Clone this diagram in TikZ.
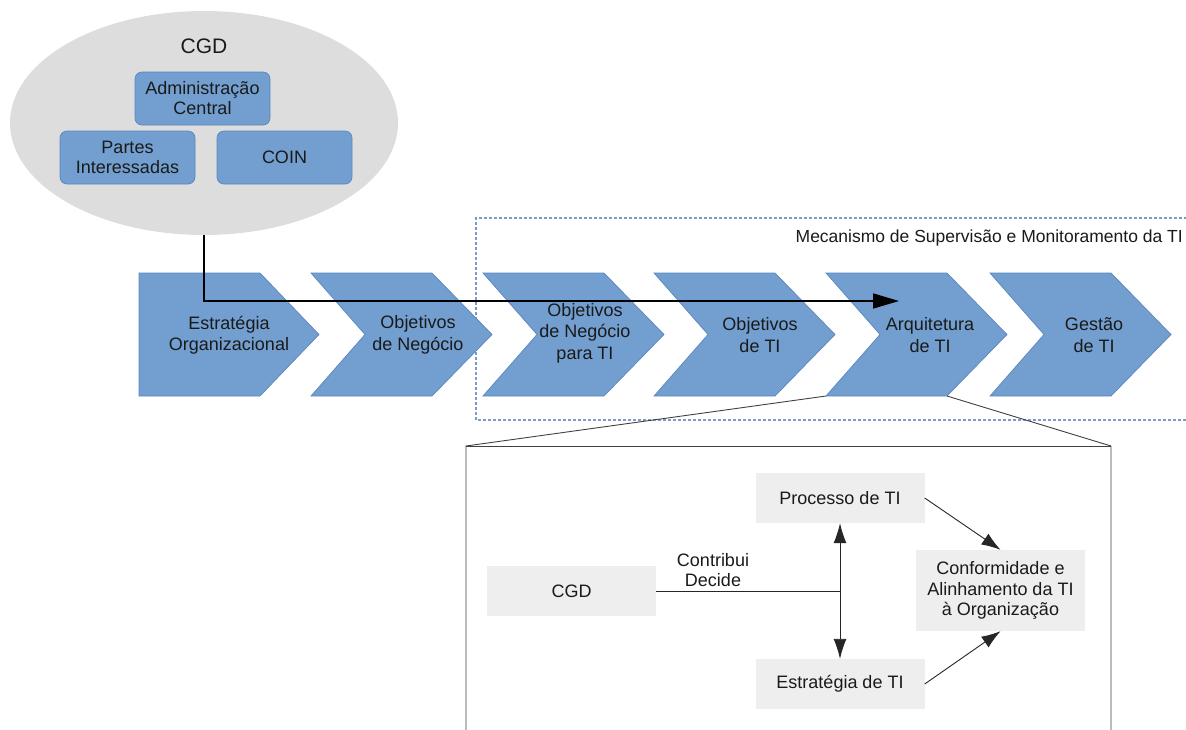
\documentclass[tikz,border=0pt]{standalone}
\usepackage{fontspec}
\setmainfont{Liberation Sans}
\usetikzlibrary{arrows.meta,calc,shapes.geometric}

\definecolor{chevfill}{HTML}{729FCF}
\definecolor{chevline}{HTML}{5B87BE}
\definecolor{ovalgray}{HTML}{DDDDDD}
\definecolor{boxgray}{HTML}{EEEEEE}
\definecolor{dotblue}{HTML}{7A9CC8}
\definecolor{inkdark}{HTML}{1A1A1A}

% one step of the value chain: arrow-shaped band with a notch on the left
\newcommand{\chevstep}[1]{%
  \path[chev] (#1,273) -- ++(121,0) -- ++(60,61.5) -- ++(-60,61.5)
    -- ++(-121,0) -- ++(54,-61.5) -- cycle;}

\begin{document}
\begin{tikzpicture}[x=1pt,y=-1pt,
  chev/.style={fill=chevfill,draw=chevline,line width=0.7pt,line join=miter},
  chevtext/.style={font=\fontsize{18}{21.5}\selectfont,align=center,text=inkdark,inner sep=0pt},
  orgbox/.style={fill=chevfill,draw=chevline,line width=0.7pt,rounded corners=7pt,
    minimum width=135pt,minimum height=53pt,align=center,inner sep=0pt,
    font=\fontsize{18}{20}\selectfont,text=inkdark},
  greybox/.style={fill=boxgray,minimum width=169pt,minimum height=50pt,align=center,
    inner sep=0pt,font=\fontsize{18}{20.5}\selectfont,text=inkdark},
  flowline/.style={line width=1.6pt,-{Triangle[length=26pt,width=15pt]}},
  thinline/.style={line width=0.9pt,draw=black!85},
  tipline/.style={thinline,-{Latex[length=19pt,width=13pt]}},
  zoomline/.style={line width=0.9pt,draw=black!75}
]
\useasboundingbox (0,0) rectangle (1186,729);

% governance committee
\node[ellipse,fill=ovalgray,minimum width=388pt,minimum height=224pt,inner sep=0pt]
  (oval) at (204,123) {};
\node[font=\fontsize{21}{24}\selectfont,text=inkdark] (cgdtitle) at (204,46) {CGD};
\node[orgbox] (adm) at (202.5,98.5) {Administração\\Central};
\node[orgbox] (partes) at (127.5,157.5) {Partes\\Interessadas};
\node[orgbox] (coin) at (284.5,157.5) {COIN};

% supervision area
\draw[dotblue,line width=1.1pt,dash pattern=on 3pt off 2pt]
  (1192,218) -- (476,218) -- (476,420) -- (1192,420);
\node[anchor=base east,font=\fontsize{17.5}{20}\selectfont,text=inkdark,inner sep=0pt]
  (mecan) at (1183,242) {Mecanismo de Supervisão e Monitoramento da TI};

% value chain
\path[chev] (139,273) -- (260,273) -- (319,334.5) -- (260,396) -- (139,396) -- cycle;
\chevstep{311}
\chevstep{483}
\chevstep{654}
\chevstep{826}
\chevstep{990}

\node[chevtext] (s1) at (229,335) {Estratégia\\Organizacional};
\node[chevtext] (s2) at (418,335) {Objetivos\\de Negócio};
\node[chevtext] (s3) at (585,333) {Objetivos\\de Negócio\\para TI};
\node[chevtext] (s4) at (760,335) {Objetivos\\de TI};
\node[chevtext] (s5) at (930,335) {Arquitetura\\de TI};
\node[chevtext] (s6) at (1094,335) {Gestão\\de TI};

% influence of the committee on the chain
\coordinate (flowend) at (899,301);
\draw[flowline] (oval.south) |- (flowend);

% detail of the architecture step
\coordinate (archbl) at (826,396);
\coordinate (archbr) at (947,396);
\coordinate (detl) at (466,446);
\coordinate (detr) at (1111,446);
\draw[zoomline] (archbl) -- (detl) -- (466,735);
\draw[zoomline] (archbr) -- (detr) -- (1111,735);
\draw[zoomline] (detl) -- (detr);

\node[greybox] (proc) at (840,498) {Processo de TI};
\node[greybox] (estr) at (840,684) {Estratégia de TI};
\node[greybox] (cgd) at (571.5,591) {CGD};
\node[greybox,minimum height=81pt] (conf) at (1000.5,590.5)
  {Conformidade e\\Alinhamento da TI\\à Organização};

\coordinate (junc) at (proc.south |- cgd.east);
\draw[thinline] (cgd.east) -- (junc);
\draw[thinline,{Latex[length=20pt,width=13pt]}-{Latex[length=20pt,width=13pt]}]
  (proc.south) -- (estr.north);
\node[font=\fontsize{18}{20.5}\selectfont,align=center,text=inkdark,inner sep=0pt]
  (rel) at (713,570) {Contribui\\Decide};

\draw[tipline] (proc.east) -- (conf.north);
\draw[tipline] (estr.east) -- (conf.south);
\end{tikzpicture}
\end{document}
